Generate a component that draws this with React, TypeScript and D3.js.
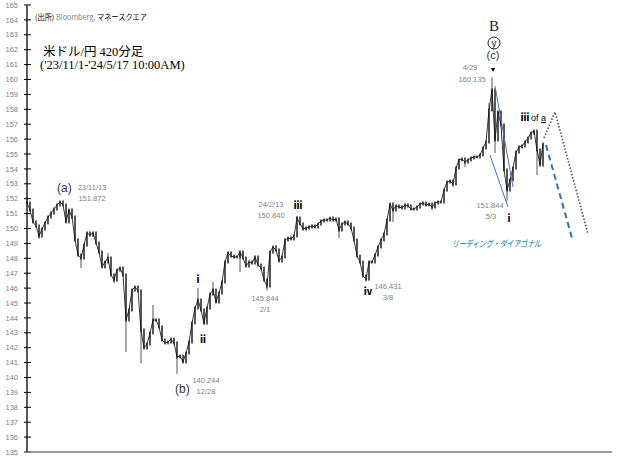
import React from 'react'
import * as d3 from 'd3'

// USD/JPY 4h closes, '23/11/1 - '24/5/17
const closes = [
  151.71, 151.24, 150.44, 150.17, 149.5, 149.97, 150.37, 150.77, 151.04, 151.31,
  151.58, 151.78, 151.58, 150.44, 151.24, 150.77, 149.23, 148.22, 148.02, 148.89,
  149.7, 149.56, 149.7, 149.03, 148.42, 147.42, 147.75, 148.02, 146.88, 146.54,
  147.21, 147.35, 146.88, 143.86, 144.53, 145.87, 146.07, 145.81, 143.19, 141.98,
  142.25, 142.99, 143.86, 143.86, 143.39, 142.52, 142.32, 142.38, 142.58, 142.32,
  141.38, 141.44, 141.04, 141.64, 142.38, 143.66, 144.66, 145.2, 144.53, 143.66,
  144.66, 145.6, 145.87, 145.07, 145.67, 146.41, 147.75, 148.36, 148.15, 148.09,
  148.09, 148.42, 148.02, 147.48, 147.75, 147.68, 148.09, 147.55, 147.35, 146.54,
  146.14, 148.42, 148.76, 148.56, 147.82, 148.09, 149.23, 149.36, 149.3, 149.5,
  150.7, 150.3, 149.97, 150.03, 150.1, 150.17, 150.1, 150.3, 150.5, 150.57,
  150.57, 150.7, 150.57, 150.64, 149.9, 150.3, 150.44, 150.3, 150.03, 149.23,
  148.15, 147.75, 146.81, 146.61, 147.75, 147.75, 148.22, 148.76, 149.23, 149.63,
  150.57, 151.64, 151.24, 151.51, 151.44, 151.38, 151.58, 151.51, 151.31, 151.31,
  151.44, 151.64, 151.71, 151.58, 151.64, 151.44, 151.71, 151.78, 151.78, 152.58,
  153.12, 153.19, 152.99, 154.06, 154.6, 154.66, 154.46, 154.6, 154.73, 154.8,
  154.8, 154.93, 155.4, 155.81, 157.95, 159.3, 155.94, 157.82, 156.95, 153.93,
  152.58, 153.26, 154.06, 155.13, 155.47, 155.54, 155.81, 156.07, 156.41, 156.54,
  155.27, 154.26, 155.67
]

// long wicks: [bar index, extreme price]
const wicks: [number, number][] = [
  [4, 149.3], [18, 147.35], [27, 148.36], [29, 146.34], [33, 141.71], [38, 140.95],
  [42, 144.87], [50, 140.24], [57, 146.0], [59, 143.52], [62, 146.41], [71, 147.08],
  [80, 145.84], [90, 150.84], [104, 149.36], [113, 146.43], [122, 150.44], [135, 151.24],
  [142, 152.79], [146, 154.13], [154, 158.42], [155, 160.14], [156, 155.07], [160, 151.84],
  [170, 153.59]
]

const yTicks = d3.range(135, 166, 1)

// leading diagonal channel and projected paths
const wedgeTop: [number, number][] = [[156, 159.56], [162, 152.79]]
const wedgeBottom: [number, number][] = [[154.33, 154.93], [160.33, 151.44]]
const dottedPath: [number, number][] = [[172.33, 156.07], [176, 157.82], [187, 149.63]]
const dashedPath: [number, number][] = [[173, 155.6], [181.67, 149.36]]

const gray = '#7f7f7f'
const numFont = '"Liberation Sans", Arial, sans-serif'
const jpFont = '"Liberation Serif", "Noto Sans CJK JP", serif'

const Roman = ({ x, y, t }) => (
  <text x={x} y={y} fontSize={9} fontWeight={900} fontFamily='"Noto Sans CJK JP"' textAnchor="middle" fill="#000">
    {t}
  </text>
)

const App = () => {
  const width = 618
  const height = 468
  const x = d3.scaleLinear().domain([0, 195]).range([27, 612])
  const y = d3.scaleLinear().domain([135, 165]).range([452, 5])

  const line = d3
    .line<[number, number]>()
    .x((d) => x(d[0]))
    .y((d) => y(d[1]))

  const closePath = line(closes.map((c, i) => [i, c]))

  const bars = closes.map((c, i) => {
    const prev = i === 0 ? c : closes[i - 1]
    const hi = Math.max(prev, c) + 0.1
    const lo = Math.min(prev, c) - 0.1
    return (
      <rect
        key={i}
        x={x(i) - 0.7}
        y={y(hi)}
        width={1.4}
        height={y(lo) - y(hi)}
        fill="#111"
      />
    )
  })

  const wickLines = wicks.map(([i, p], k) => (
    <line key={k} x1={x(i)} x2={x(i)} y1={y(closes[i])} y2={y(p)} stroke="#555" strokeWidth={1} />
  ))

  const small = (tx, ty, t, anchor = 'start') => (
    <text x={tx} y={ty} fontSize={7.5} fill={gray} fontFamily={numFont} textAnchor={anchor}>
      {t}
    </text>
  )

  return (
    <svg width={width} height={height} style={{ position: 'absolute', left: 0, top: 0, background: '#fff' }}>
      {/* y axis */}
      <line x1={27} x2={27} y1={y(165)} y2={y(135)} stroke="#000" strokeWidth={1.3} />
      {yTicks.map((t) => (
        <g key={t}>
          <line x1={24} x2={31} y1={y(t)} y2={y(t)} stroke="#000" strokeWidth={1} />
          <text x={18} y={y(t) + 2.6} fontSize={7.5} fill={gray} fontFamily={numFont} textAnchor="end">
            {t}
          </text>
        </g>
      ))}
      {/* x axis */}
      <line x1={27} x2={612} y1={y(135)} y2={y(135)} stroke="#777" strokeWidth={1.6} />

      {/* price */}
      {wickLines}
      <path d={closePath} fill="none" stroke="#222" strokeWidth={0.9} />
      {bars}

      {/* wave channel */}
      <path d={line(wedgeTop)} stroke="#4472c4" strokeWidth={1} fill="none" />
      <path d={line(wedgeBottom)} stroke="#4472c4" strokeWidth={1} fill="none" />
      <path d={line(dottedPath)} stroke="#44546a" strokeWidth={1.6} strokeDasharray="1.5 1.8" fill="none" />
      <path d={line(dashedPath)} stroke="#2e75b6" strokeWidth={2} strokeDasharray="6 4" fill="none" />

      {/* titles */}
      <text x={35} y={20} fontSize={7.5} fontFamily='"Noto Sans CJK JP"' textLength={112} lengthAdjust="spacingAndGlyphs">
        <tspan fill="#000">(出所) </tspan>
        <tspan fill={gray}>Bloomberg, </tspan>
        <tspan fill="#000">マネースクエア</tspan>
      </text>
      <text x={43} y={56} fontSize={12.5} fontFamily={jpFont} fill="#000">
        米ドル/円 420分足
      </text>
      <text x={40} y={69} fontSize={12.5} fontFamily={jpFont} fill="#000">
        ('23/11/1-'24/5/17 10:00AM)
      </text>

      {/* swing labels */}
      <text x={57} y={192} fontSize={12} fill="#333" fontFamily={numFont}>(a)</text>
      {small(92, 190, '23/11/13', 'middle')}
      {small(92, 201, '151.872', 'middle')}

      <text x={175} y={393} fontSize={12} fill="#333" fontFamily={numFont}>(b)</text>
      {small(206, 383, '140.244', 'middle')}
      {small(206, 394, '12/28', 'middle')}

      {small(265, 301, '145.844', 'middle')}
      {small(265, 312, '2/1', 'middle')}

      {small(271, 207, '24/2/13', 'middle')}
      {small(271, 218, '150.840', 'middle')}

      {small(388, 289, '146.431', 'middle')}
      {small(388, 300, '3/8', 'middle')}

      {small(470, 70, '4/29', 'middle')}
      {small(472, 82, '160.135', 'middle')}

      {small(490, 208, '151.844', 'middle')}
      {small(491, 219, '5/3', 'middle')}

      <Roman x={198} y={283} t="ⅰ" />
      <Roman x={203} y={343} t="ⅱ" />
      <Roman x={298} y={209} t="ⅲ" />
      <Roman x={368} y={295} t="ⅳ" />
      <Roman x={509} y={222} t="ⅰ" />
      <Roman x={525} y={121} t="ⅲ" />
      <text x={531} y={121} fontSize={9} fill="#000" fontFamily={numFont}>of </text>
      <text x={541} y={121} fontSize={9} fill="#000" fontFamily={numFont} textDecoration="underline">a</text>

      {/* B / (y) / (c) */}
      <text x={494} y={31} fontSize={15} textAnchor="middle" fontFamily='"Liberation Serif", serif' fill="#222">B</text>
      <circle cx={494} cy={43} r={6} fill="none" stroke="#222" strokeWidth={1} />
      <text x={494} y={46.5} fontSize={10} textAnchor="middle" fontFamily={numFont} fill="#222">y</text>
      <text x={493} y={59} fontSize={11} textAnchor="middle" fontFamily={numFont} fill="#333">(c)</text>
      <text x={493} y={72} fontSize={7} textAnchor="middle" fill="#000">▼</text>

      <text x={452} y={247} fontSize={9} fill="#0070c0" fontStyle="italic" fontFamily='"Noto Sans CJK JP"' textLength={89} lengthAdjust="spacingAndGlyphs">
        リーディング・ダイアゴナル
      </text>
    </svg>
  )
}

export default App
